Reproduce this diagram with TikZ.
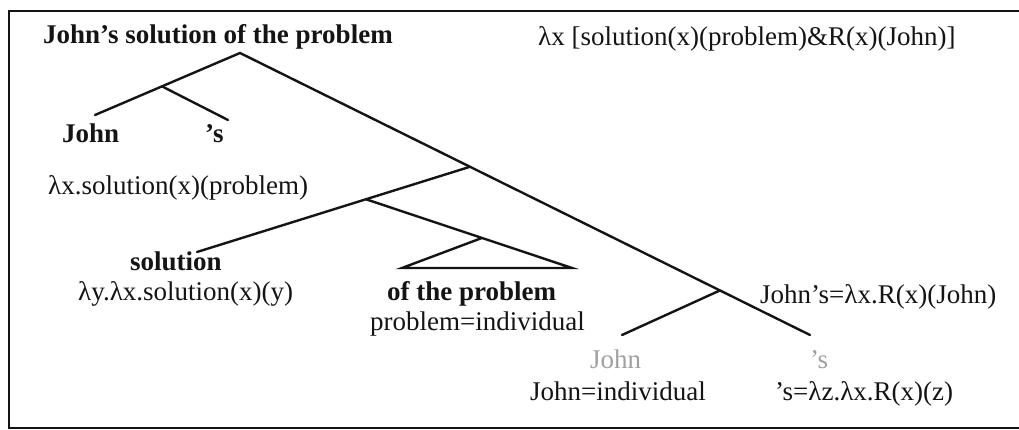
\documentclass[tikz,border=0pt]{standalone}
\usepackage{fontspec}
\setmainfont{Liberation Serif}
\usepackage{tikz}
\usetikzlibrary{positioning,calc}
\definecolor{Tink}{RGB}{20,20,20}
\definecolor{Tghost}{RGB}{160,160,160}
\tikzset{
    tword/.style={
        anchor=base west, inner sep=0pt, text=Tink,
        font=\fontsize{27}{32}\selectfont
    },
    tbold/.style={tword, font=\fontsize{27}{32}\selectfont\bfseries},
    tghost/.style={tword, text=Tghost},
    tbranch/.style={draw=Tink, line width=2.4pt, line cap=round},
    tframe/.style={draw=Tink, line width=2pt},
}

\begin{document}
\begin{tikzpicture}[x=1pt, y=-1pt]

    \useasboundingbox (0,0) rectangle (1019,430);
    \draw [tframe] (1019,11) -- (9,11) -- (9,428) -- (1019,428);

    % ── top line: the phrase and its meaning ─────────
    \node [tbold] (root) at (43,44) {John’s solution of the problem};
    \node [tword] (rootsem) at (538,46) {λx [solution(x)(problem)\&R(x)(John)]};

    % ── left: John 's ────────────────────────────────
    \node [tbold] (john) at (62,143) {John};
    \node [tbold] (poss) at (205,143) {’s};

    % ── middle: solution of the problem ──────────────
    \node [tword] (npsem) at (48,195) {λx.solution(x)(problem)};
    \node [tbold] (noun) at (130,270) {solution};
    \node [tword] (nounsem) at (78,300) {λy.λx.solution(x)(y)};
    \node [tbold] (pp) at (387,300) {of the problem};
    \node [tword] (ppsem) at (370,330) {problem=individual};

    % ── right: John's ────────────────────────────────
    \node [tword] (possem) at (760,303) {John’s=λx.R(x)(John)};
    \node [tghost] (johnlow) at (590,368) {John};
    \node [tghost] (posslow) at (810,368) {’s};
    \node [tword] (johnsem) at (530,400) {John=individual};
    \node [tword] (posssem) at (775,400) {’s=λz.λx.R(x)(z)};

    % ── branch ends and branch points ────────────────
    \coordinate (apex) at (240,53);
    \coordinate (jl) at (95,115);
    \coordinate (js) at (228,120);
    \coordinate (send) at (810,335);
    \coordinate (solend) at (197,252);
    \coordinate (prend) at (572,268);
    \coordinate (trileft) at (402,268);
    \coordinate (jnend) at (622,335);
    \coordinate (splitj) at ($(apex)!0.538!(jl)$);
    \coordinate (splitn) at ($(apex)!0.4035!(send)$);
    \coordinate (splits) at ($(splitn)!0.381!(solend)$);
    \coordinate (tritop) at ($(splits)!0.563!(prend)$);
    \coordinate (splitp) at ($(apex)!0.842!(send)$);

    % ── tree ─────────────────────────────────────────
    \draw [tbranch] (jl) -- (apex) -- (send);
    \draw [tbranch] (splitj) -- (js);
    \draw [tbranch] (splitn) -- (solend);
    \draw [tbranch] (splits) -- (prend) -- (trileft) -- (tritop);
    \draw [tbranch] (splitp) -- (jnend);

\end{tikzpicture}
\end{document}
